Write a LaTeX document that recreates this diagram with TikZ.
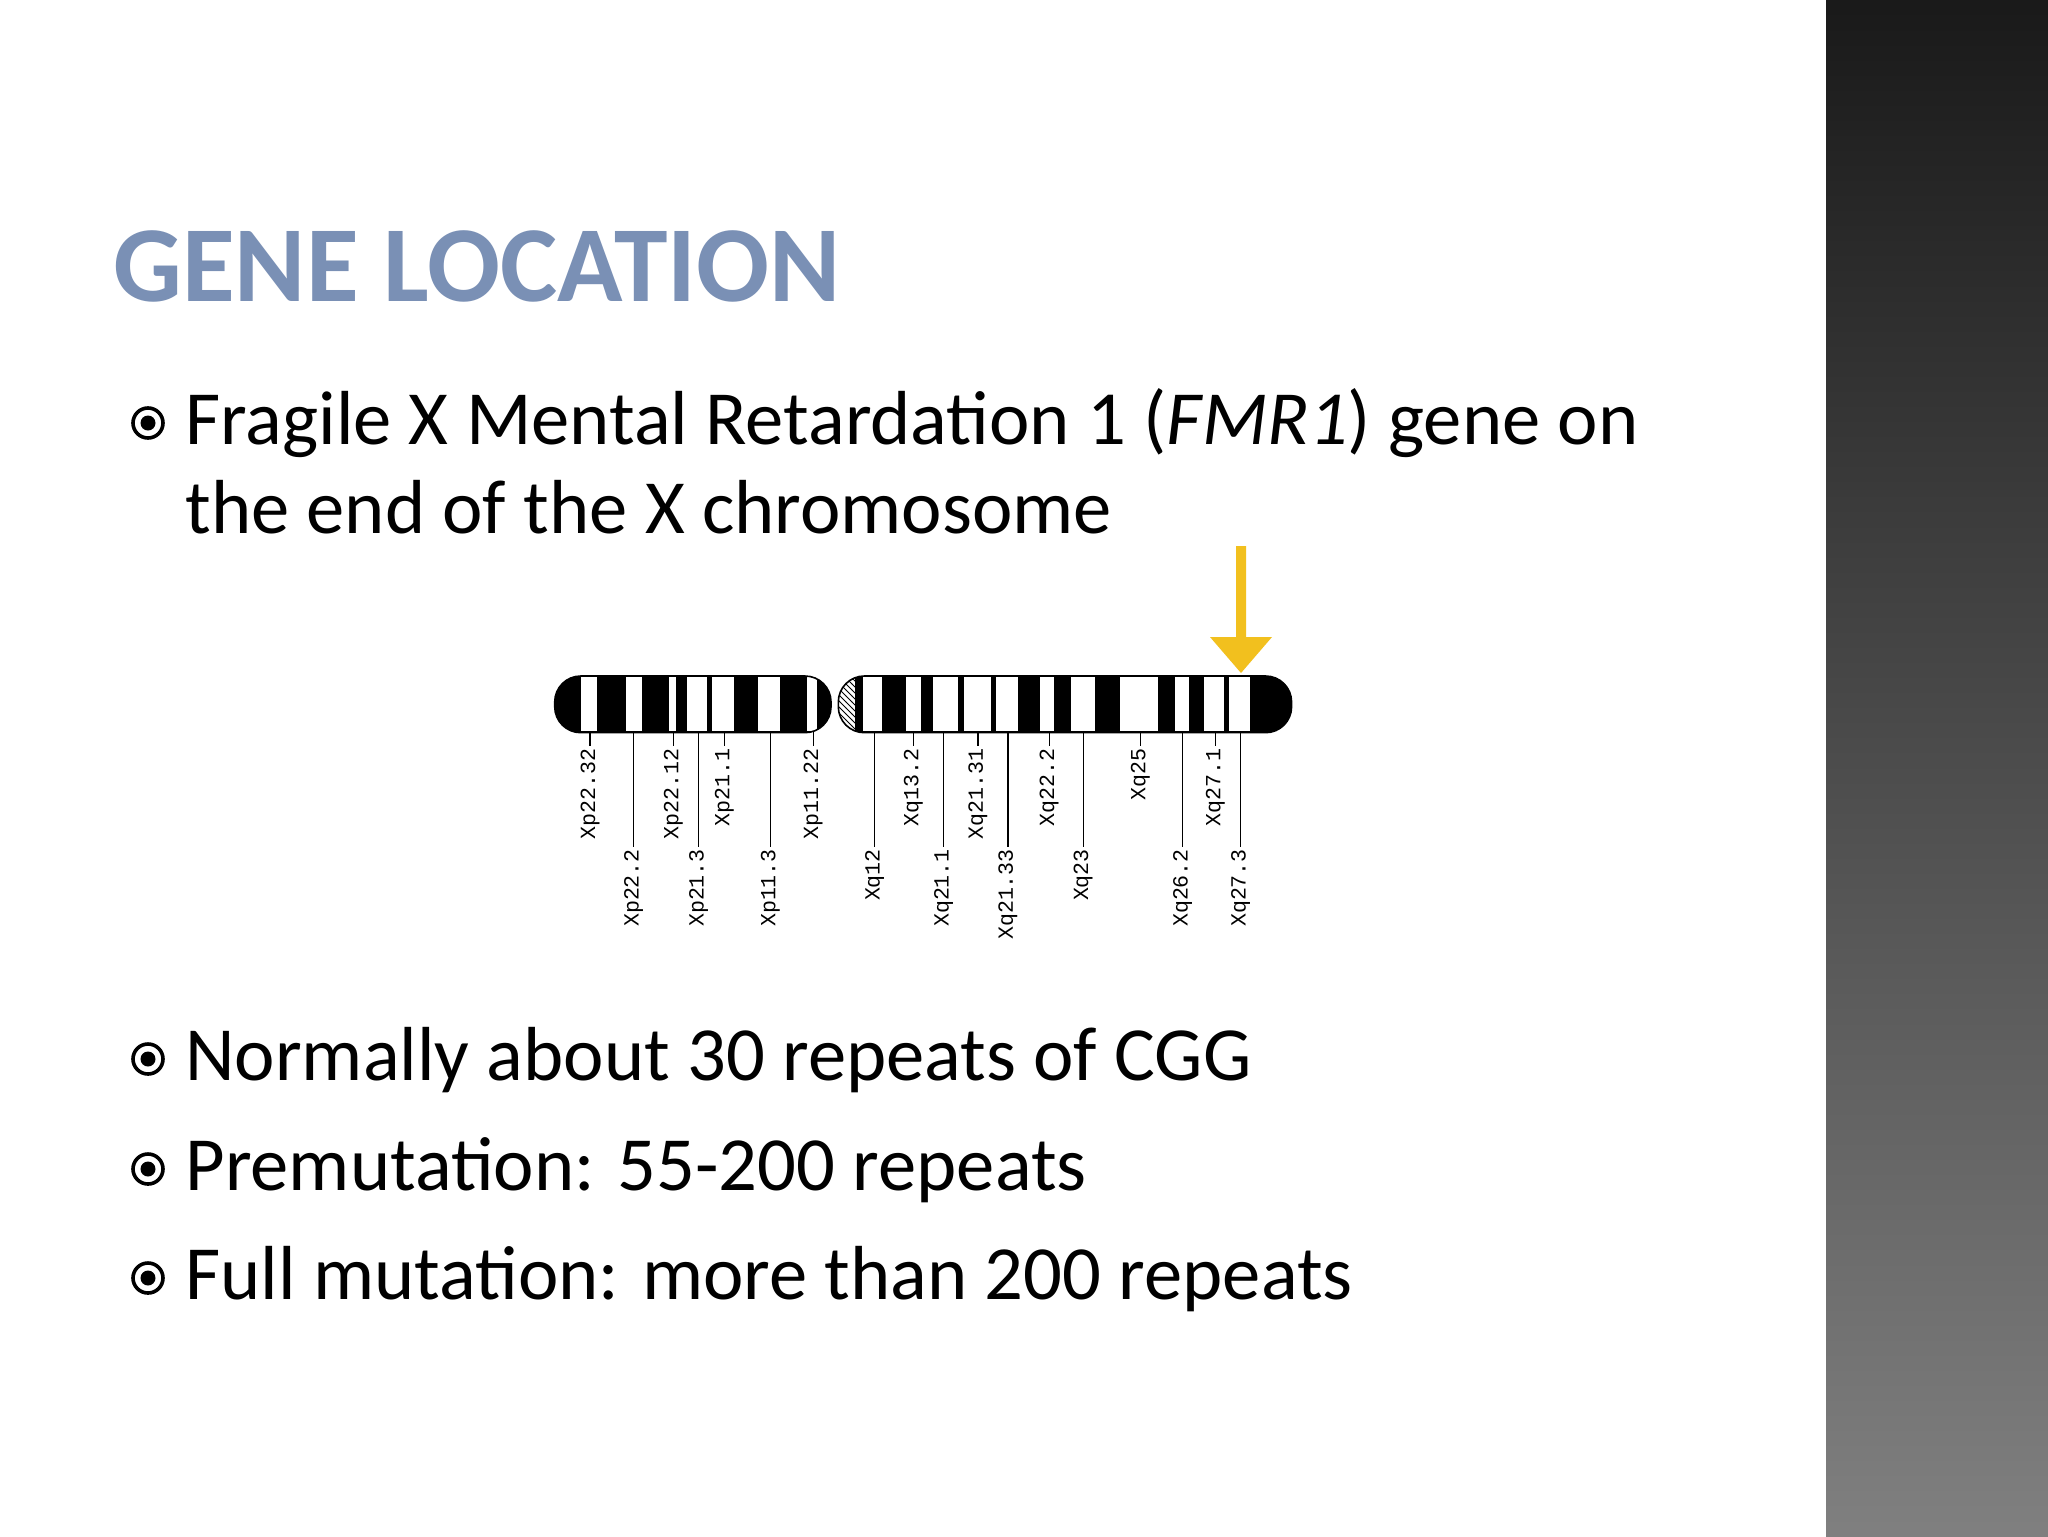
\documentclass[tikz,border=0pt]{standalone}
\usepackage{fontspec}
\setmainfont{Carlito}
\newfontfamily\labfont{Liberation Mono}
\usetikzlibrary{patterns}
\definecolor{titleblue}{HTML}{7A90B5}
\definecolor{arrowyellow}{HTML}{F2C01E}
\tikzset{
  body/.style={anchor=base west,font=\fontsize{38.3}{46}\selectfont,inner sep=0pt},
  bandlab/.style={rotate=90,anchor=east,font=\labfont\fontsize{10.8}{12}\selectfont,inner sep=1pt},
  tick/.style={line width=0.6pt},
}
\newcommand{\bul}[2]{\draw[line width=1.8pt] (#1,#2) circle (15); \fill (#1,#2) circle (7.5);}
\begin{document}
\begin{tikzpicture}[x=0.5pt,y=-0.5pt]
\useasboundingbox (0,0) rectangle (2048,1536);
\fill[white] (0,0) rectangle (2048,1536);
\shade[top color=black!90,bottom color=black!50] (1826,0) rectangle (2048,1536);
\node[anchor=base west,inner sep=0pt,font=\bfseries\fontsize{54}{60}\selectfont,text=titleblue] (title) at (113,301) {GENE LOCATION};
\bul{148}{423}
\node[body] (l1) at (185,444) {Fragile X Mental Retardation 1 (\textit{FMR1}) gene on};
\node[body] (l2) at (185,533) {the end of the X chromosome};
\bul{148}{1059}
\node[body] (l3) at (185,1080) {Normally about 30 repeats of CGG};
\bul{148}{1169}
\node[body] (l4) at (185,1190) {Premutation: 55-200 repeats};
\bul{148}{1278}
\node[body] (l5) at (185,1299) {Full mutation: more than 200 repeats};
% arrow
\fill[arrowyellow] (1236,546) -- (1246,546) -- (1246,637) -- (1272,637) -- (1241,673) -- (1210,637) -- (1236,637) -- cycle;
% chromosome
\begin{scope}[shift={(545,660)},x=0.2424pt,y=-0.1667pt]
 \begin{scope}
  \clip[rounded corners=13pt] (20,48) rectangle (590,218);
  \fill (20,48) rectangle (590,218);
  \foreach \a/\b in {75/108,168/200,255/270,292/335,345/390,440/485,540/562}
   \fill[white] (\a,52) rectangle (\b,214);
 \end{scope}
 \draw[line width=0.8pt,rounded corners=13pt] (20,48) rectangle (590,218);
 \begin{scope}
  \clip[rounded corners=13pt] (605,48) rectangle (1540,218);
  \fill (640,48) rectangle (1540,218);
  \fill[pattern=north west lines] (605,48) rectangle (640,218);
  \foreach \a/\b in {655/695,745/775,800/852,865/920,930/975,1022/1050,1085/1135,1185/1265,1300/1328,1360/1400,1410/1455}
   \fill[white] (\a,52) rectangle (\b,214);
 \end{scope}
 \draw[line width=0.8pt,rounded corners=13pt] (605,48) rectangle (1540,218);
 \foreach \x/\t/\n in {93/Xp22.32/a,265/Xp22.12/b,370/Xp21.1/c,553/Xp11.22/d,760/Xq13.2/e,893/Xq21.31/f,1040/Xq22.2/g,1228/Xq25/h,1383/Xq27.1/i}{
   \node[bandlab] (s\n) at (\x,258) {\t};
   \draw[tick] (\x,214) -- (\x,245) -- (s\n.east);
 }
 \foreach \x/\t/\n in {183/Xp22.2/a,317/Xp21.3/b,465/Xp11.3/c,680/Xq12/d,822/Xq21.1/e,955/Xq21.33/f,1110/Xq23/g,1315/Xq26.2/h,1435/Xq27.3/i}{
   \node[bandlab] (t\n) at (\x,560) {\t};
   \draw[tick] (\x,214) -- (t\n.east);
 }
\end{scope}
\end{tikzpicture}
\end{document}
